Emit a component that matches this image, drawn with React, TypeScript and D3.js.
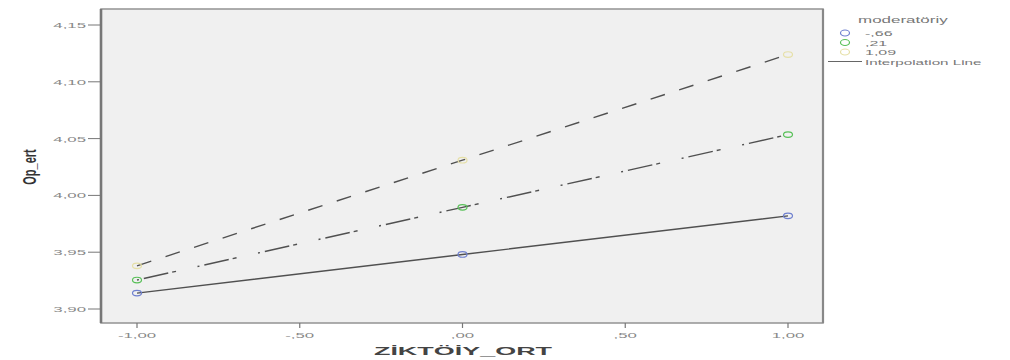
import * as d3 from "d3";
import React from "react";

// moderator levels, x positions and predicted values
const xValues = [-1, 0, 1];
const groups = ["-,66", ",21", "1,09"];
const lowValues = [3.914, 3.948, 3.982];
const midValues = [3.9255, 3.9895, 4.0535];
const highValues = [3.938, 4.031, 4.124];

const yTicks = [3.9, 3.95, 4.0, 4.05, 4.1, 4.15];
const yTickLabels = ["3,90", "3,95", "4,00", "4,05", "4,10", "4,15"];
const xTicks = [-1, -0.5, 0, 0.5, 1];
const xTickLabels = ["-1,00", "-,50", ",00", ",50", "1,00"];

const series = [
  { name: groups[0], values: lowValues, color: "#6f80cf", dash: "none" },
  { name: groups[1], values: midValues, color: "#58c058", dash: "2,5,25,4,4,22" },
  { name: groups[2], values: highValues, color: "#e6e0a8", dash: "15,15" },
];

const W = 1010;
const H = 360;
const frame = { l: 101, r: 823, t: 9, b: 323 };
const SX = 2.1; // picture is stretched sideways
const FONT = "'Liberation Sans', Arial, sans-serif";

const App: React.FC = () => {
  const x = d3.scaleLinear().domain([-1, 1]).range([137, 788]);
  const y = d3.scaleLinear().domain([3.9, 4.15]).range([309, 25]);

  const line = d3
    .line<number>()
    .x((_, i) => x(xValues[i]))
    .y((d) => y(d));

  const stretched = (px: number, py: number, s = SX) =>
    `translate(${px},${py}) scale(${s},1)`;

  return (
    <svg
      width={W}
      height={H}
      style={{ position: "absolute", left: 0, top: 0, background: "#fff" }}
      fontFamily={FONT}
    >
      <rect x={0} y={0} width={W} height={H} fill="#fff" />
      {/* plot frame */}
      <rect
        x={frame.l}
        y={frame.t}
        width={frame.r - frame.l}
        height={frame.b - frame.t}
        fill="#f0f0f0"
        stroke="#999"
        strokeWidth={1.6}
      />
      <line x1={frame.l} x2={frame.l} y1={frame.t} y2={frame.b} stroke="#777" strokeWidth={2.6} />
      <line x1={frame.r} x2={frame.r} y1={frame.t} y2={frame.b} stroke="#888" strokeWidth={2.2} />

      {/* y axis */}
      {yTicks.map((t, i) => (
        <g key={"y" + i}>
          <line x1={88} x2={frame.l} y1={y(t)} y2={y(t)} stroke="#777" strokeWidth={1} />
          <text
            transform={stretched(86, y(t) + 3)}
            textAnchor="end"
            fontSize={8}
            fill="#888"
          >
            {yTickLabels[i]}
          </text>
        </g>
      ))}

      {/* x axis */}
      {xTicks.map((t, i) => (
        <g key={"x" + i}>
          <line x1={x(t)} x2={x(t)} y1={frame.b} y2={frame.b + 5} stroke="#777" strokeWidth={1.2} />
          <text
            transform={stretched(x(t), 338)}
            textAnchor="middle"
            fontSize={8}
            fill="#888"
          >
            {xTickLabels[i]}
          </text>
        </g>
      ))}

      {/* axis titles */}
      <text
        transform={stretched(463, 355, 2.45)}
        textAnchor="middle"
        fontSize={11}
        fontWeight="bold"
        fill="#444"
      >
        ZİKTÖİY_ORT
      </text>
      <text
        transform={`translate(36,167) scale(1.7,1) rotate(-90)`}
        textAnchor="middle"
        fontSize={11}
        fontWeight="bold"
        fill="#333"
      >
        Op_ert
      </text>

      {/* lines */}
      {series.map((s) => (
        <path
          key={"l" + s.name}
          d={line(s.values) || ""}
          fill="none"
          stroke="#505050"
          strokeWidth={1.4}
          strokeDasharray={s.dash}
        />
      ))}

      {/* points */}
      {series.map((s) =>
        s.values.map((v, i) => (
          <ellipse
            key={"p" + s.name + i}
            cx={x(xValues[i])}
            cy={y(v)}
            rx={4.5}
            ry={2.8}
            fill="none"
            stroke={s.color}
            strokeWidth={1.2}
          />
        ))
      )}

      {/* legend */}
      <text transform={stretched(858, 23, 2.0)} fontSize={8.5} fill="#777">
        moderatöriy
      </text>
      {series.map((s, i) => (
        <g key={"lg" + s.name}>
          <ellipse
            cx={845}
            cy={33 + i * 9.5}
            rx={4.5}
            ry={3}
            fill="none"
            stroke={s.color}
            strokeWidth={1.2}
          />
          <text transform={stretched(865, 36 + i * 9.5, 2.0)} fontSize={8} fill="#777">
            {s.name}
          </text>
        </g>
      ))}
      <line x1={828} x2={862} y1={61.5} y2={61.5} stroke="#666" strokeWidth={1} />
      <text transform={stretched(865, 64.5, 1.9)} fontSize={8} fill="#777">
        Interpolation Line
      </text>
    </svg>
  );
};

export default App;
